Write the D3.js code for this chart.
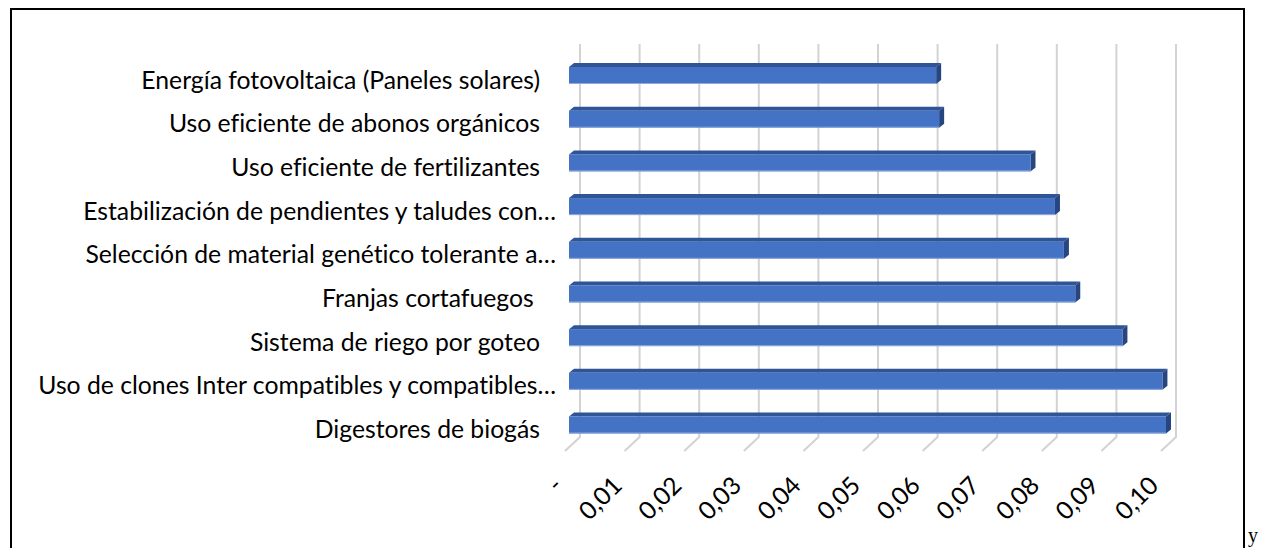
<!DOCTYPE html>
<html><head><meta charset="utf-8">
<script src="https://cdn.jsdelivr.net/npm/d3@7"></script>
<style>body{margin:0;background:#fff}svg{display:block}text{font-variant-ligatures:none}</style>
</head><body><svg id="c" width="1267" height="548"></svg>
<script>
// Data (Excel order: first category at the bottom)
const categories = [
  "Digestores de biogás",
  "Uso de clones Inter compatibles y compatibles…",
  "Sistema de riego por goteo",
  "Franjas cortafuegos ",
  "Selección de material genético tolerante a…",
  "Estabilización de pendientes y taludes con…",
  "Uso eficiente de fertilizantes",
  "Uso eficiente de abonos orgánicos",
  "Energía fotovoltaica (Paneles solares)"
];
const values = [0.1000, 0.0994, 0.0927, 0.0848, 0.0829, 0.0814, 0.0773, 0.0620, 0.0615];
const tickValues = [0, 0.01, 0.02, 0.03, 0.04, 0.05, 0.06, 0.07, 0.08, 0.09, 0.10];
const tickLabels = ["-", "0,01", "0,02", "0,03", "0,04", "0,05", "0,06", "0,07", "0,08", "0,09", "0,10"];

const svg = d3.select("#c");
const FONT = "Lato, 'Open Sans', sans-serif";

// Frame (left, top, right borders; bottom is off-page)
svg.append("path")
  .attr("d", "M11,560 L11,9 L1244,9 L1244,560")
  .attr("fill", "none").attr("stroke", "#000").attr("stroke-width", 2);
svg.append("text").attr("x", 1248).attr("y", 542)
  .attr("font-family", "'Liberation Serif', 'Times New Roman', serif")
  .attr("font-size", 20).attr("fill", "#000").text("y");

// Scales (oblique 3D: back wall, bar front plane, floor front edge)
const xBack = d3.scaleLinear().domain([0, 0.1]).range([580, 1176]);
const xBar = d3.scaleLinear().domain([0, 0.1]).range([569, 1166]);
const xFloor = d3.scaleLinear().domain([0, 0.1]).range([565, 1161]);
const y = d3.scalePoint().domain(categories).range([425, 75.5]);

const wallTop = 44, wallBottom = 437, floorFront = 451;

// Gridlines on back wall + floor
const grid = svg.append("g");
grid.selectAll("path").data(tickValues).join("path")
  .attr("d", d => `M${xBack(d)},${wallTop} L${xBack(d)},${wallBottom} L${xFloor(d)},${floorFront}`)
  .attr("fill", "none").attr("stroke", "#d3d3d3").attr("stroke-width", 2);

// Bars
const barH = 17, dx = 5, dy = 4;
const bars = svg.append("g");
const data = categories.map((c, i) => ({c, v: values[i]}));
const g = bars.selectAll("g").data(data).join("g");
g.append("polygon") // top face
  .attr("points", d => {
    const x0 = xBar(0), x1 = xBar(d.v), yt = y(d.c) - barH / 2;
    return [[x0, yt], [x1, yt], [x1 + dx, yt - dy], [x0 + dx, yt - dy]].join(" ");
  })
  .attr("fill", "#2F5597");
g.append("polygon") // side face
  .attr("points", d => {
    const x1 = xBar(d.v), yt = y(d.c) - barH / 2, yb = y(d.c) + barH / 2;
    return [[x1, yt], [x1 + dx, yt - dy], [x1 + dx, yb - dy], [x1, yb]].join(" ");
  })
  .attr("fill", "#27457E");
g.append("rect") // front face
  .attr("x", xBar(0)).attr("y", d => y(d.c) - barH / 2)
  .attr("width", d => xBar(d.v) - xBar(0)).attr("height", barH)
  .attr("fill", "#4472C4");
g.append("line")
  .attr("x1", xBar(0)).attr("x2", d => xBar(d.v))
  .attr("y1", d => y(d.c) + barH / 2 - 0.5).attr("y2", d => y(d.c) + barH / 2 - 0.5)
  .attr("stroke", "#8FAADC").attr("stroke-width", 1);

// Category labels
const labels = svg.append("g")
  .attr("font-family", FONT).attr("fill", "#000");
const lbl = labels.selectAll("text").data(categories).join("text")
  .attr("xml:space", "preserve").style("white-space", "pre")
  .attr("text-anchor", "end")
  .attr("x", d => d.endsWith("…") ? 556 : 540)
  .attr("y", d => y(d) + 13)
  .attr("font-size", 22)
  .text(d => d);
// fit font size to the reference width of the longest label
const longest = lbl.filter((d, i) => i === 1).node();
const w = longest.getComputedTextLength();
const fs = 22 * 518 / w;
lbl.attr("font-size", fs);

// Tick labels (rotated -45°)
svg.append("g").attr("font-family", FONT).attr("fill", "#000")
  .selectAll("text").data(tickValues).join("text")
  .attr("text-anchor", "end")
  .attr("font-size", fs)
  .attr("transform", d => `translate(${xFloor(d) - 1},487) rotate(-45)`)
  .text((d, i) => tickLabels[i]);
</script></body></html>
